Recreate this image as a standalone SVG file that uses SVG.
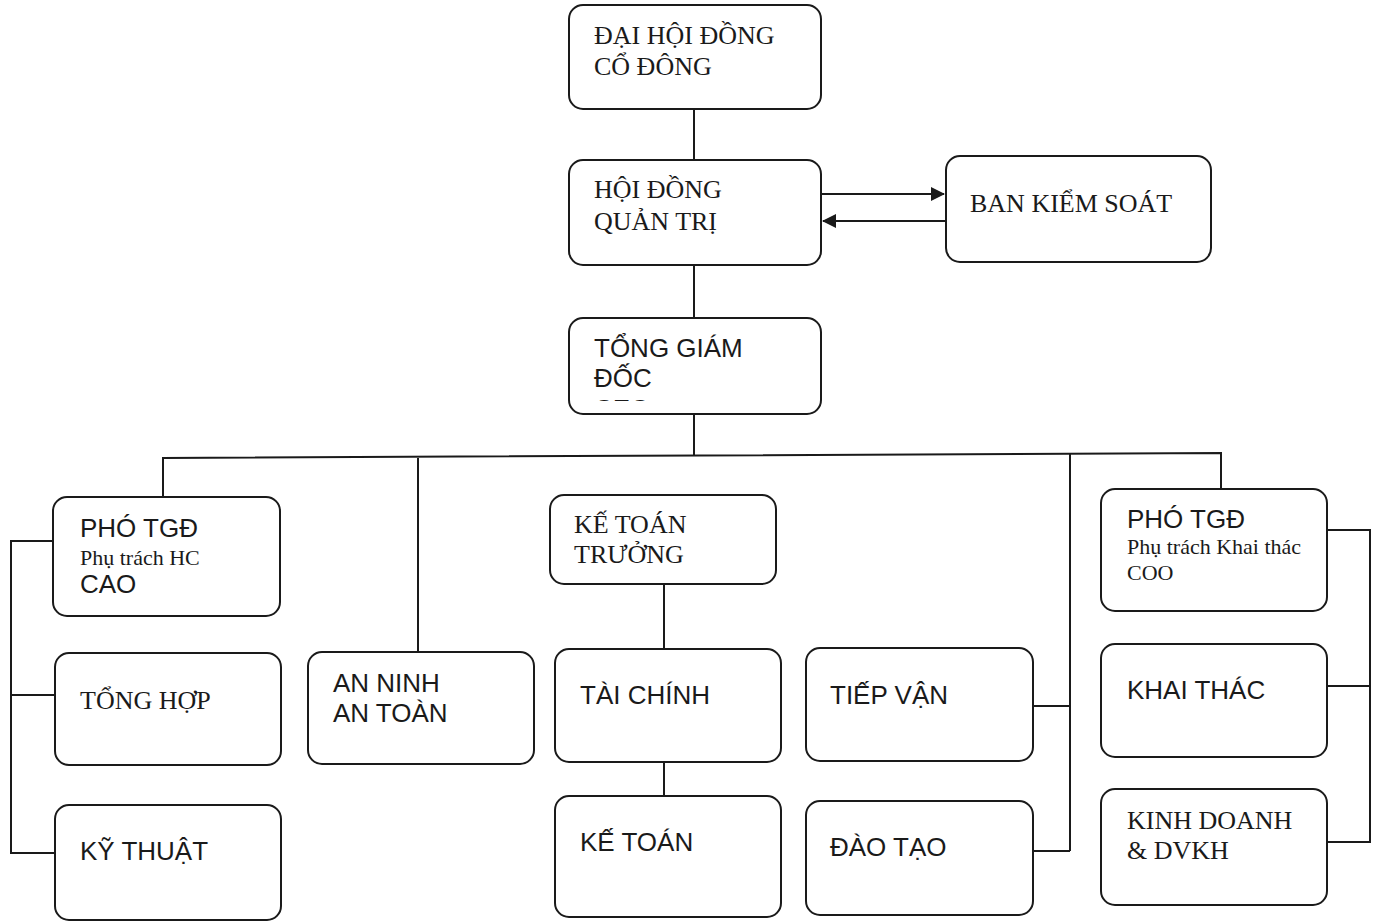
<svg xmlns="http://www.w3.org/2000/svg" width="1379" height="922" viewBox="0 0 1379 922">
<style>
.box{fill:#fff;stroke:#1a1a1a;stroke-width:2}
.ln{fill:none;stroke:#1a1a1a;stroke-width:2}
.sf{font-family:"Liberation Serif","Times New Roman",serif;font-size:26px;fill:#1a1a1a}
.ss{font-family:"Liberation Sans",Arial,sans-serif;font-size:26px;fill:#1a1a1a}
.sub{font-family:"Liberation Serif","Times New Roman",serif;font-size:22px;fill:#1a1a1a}
</style>
<defs>
<marker id="ah" markerWidth="14" markerHeight="14" refX="13" refY="7" orient="auto" markerUnits="userSpaceOnUse">
<path d="M0,0 L14,7 L0,14 Z" fill="#1a1a1a"/>
</marker>
<clipPath id="ceoClip"><rect x="569" y="318" width="252" height="83"/></clipPath>
</defs>
<rect width="1379" height="922" fill="#fff"/>
<g id="connectors">
<line class="ln" x1="694" y1="109" x2="694" y2="160"/>
<line class="ln" x1="694" y1="265" x2="694" y2="318"/>
<line class="ln" x1="822" y1="194" x2="944" y2="194" marker-end="url(#ah)"/>
<line class="ln" x1="946" y1="221" x2="823" y2="221" marker-end="url(#ah)"/>
<line class="ln" x1="694" y1="414" x2="694" y2="456"/>
<polyline class="ln" points="163,497 163,458 1221,453 1221,489"/>
<line class="ln" x1="418" y1="458" x2="418" y2="652"/>
<line class="ln" x1="1070" y1="454" x2="1070" y2="851"/>
<line class="ln" x1="1033" y1="706" x2="1070" y2="706"/>
<line class="ln" x1="1033" y1="851" x2="1070" y2="851"/>
<polyline class="ln" points="53,541 11,541 11,853 55,853"/>
<line class="ln" x1="11" y1="695" x2="55" y2="695"/>
<line class="ln" x1="664" y1="584" x2="664" y2="649"/>
<line class="ln" x1="664" y1="762" x2="664" y2="796"/>
<polyline class="ln" points="1327,530 1370,530 1370,842 1327,842"/>
<line class="ln" x1="1327" y1="686" x2="1370" y2="686"/>
</g>
<g id="dhdcd"><rect class="box" x="569" y="5" width="252" height="104" rx="14"/>
<text class="sf" x="594" y="44">ĐẠI HỘI ĐỒNG</text><text class="sf" x="594" y="75">CỔ ĐÔNG</text></g>
<g id="hdqt"><rect class="box" x="569" y="160" width="252" height="105" rx="14"/>
<text class="sf" x="594" y="198">HỘI ĐỒNG</text><text class="sf" x="594" y="230">QUẢN TRỊ</text></g>
<g id="bks"><rect class="box" x="946" y="156" width="265" height="106" rx="14"/>
<text class="sf" x="970" y="212">BAN KIỂM SOÁT</text></g>
<g id="tgd"><rect class="box" x="569" y="318" width="252" height="96" rx="14"/>
<text class="ss" x="594" y="357">TỔNG GIÁM</text><text class="ss" x="594" y="387">ĐỐC</text>
<text class="ss" x="594" y="418" clip-path="url(#ceoClip)">CEO</text></g>
<g id="ptgd-hc"><rect class="box" x="53" y="497" width="227" height="119" rx="14"/>
<text class="ss" x="80" y="537" font-size="24">PHÓ TGĐ</text>
<text class="sub" x="80" y="565" font-size="23">Phụ trách HC</text>
<text class="ss" x="80" y="593" font-size="23">CAO</text></g>
<g id="tonghop"><rect class="box" x="55" y="653" width="226" height="112" rx="14"/>
<text class="sf" x="80" y="709">TỔNG HỢP</text></g>
<g id="kythuat"><rect class="box" x="55" y="805" width="226" height="115" rx="14"/>
<text class="ss" x="80" y="860">KỸ THUẬT</text></g>
<g id="anninh"><rect class="box" x="308" y="652" width="226" height="112" rx="14"/>
<text class="ss" x="333" y="692">AN NINH</text><text class="ss" x="333" y="722">AN TOÀN</text></g>
<g id="ktt"><rect class="box" x="550" y="495" width="226" height="89" rx="14"/>
<text class="sf" x="574" y="533">KẾ TOÁN</text><text class="sf" x="574" y="563">TRƯỞNG</text></g>
<g id="taichinh"><rect class="box" x="555" y="649" width="226" height="113" rx="14"/>
<text class="ss" x="580" y="704">TÀI CHÍNH</text></g>
<g id="ketoan"><rect class="box" x="555" y="796" width="226" height="121" rx="14"/>
<text class="ss" x="580" y="851">KẾ TOÁN</text></g>
<g id="tiepvan"><rect class="box" x="806" y="648" width="227" height="113" rx="14"/>
<text class="ss" x="830" y="704">TIẾP VẬN</text></g>
<g id="daotao"><rect class="box" x="806" y="801" width="227" height="114" rx="14"/>
<text class="ss" x="830" y="856">ĐÀO TẠO</text></g>
<g id="ptgd-kt"><rect class="box" x="1101" y="489" width="226" height="122" rx="14"/>
<text class="ss" x="1127" y="528" font-size="24">PHÓ TGĐ</text>
<text class="sub" x="1127" y="554" font-size="21">Phụ trách Khai thác</text>
<text class="sub" x="1127" y="580" font-size="21">COO</text></g>
<g id="khaithac"><rect class="box" x="1101" y="644" width="226" height="113" rx="14"/>
<text class="ss" x="1127" y="699">KHAI THÁC</text></g>
<g id="kinhdoanh"><rect class="box" x="1101" y="789" width="226" height="116" rx="14"/>
<text class="sf" x="1127" y="829">KINH DOANH</text><text class="sf" x="1127" y="859">&amp; DVKH</text></g>
</svg>
